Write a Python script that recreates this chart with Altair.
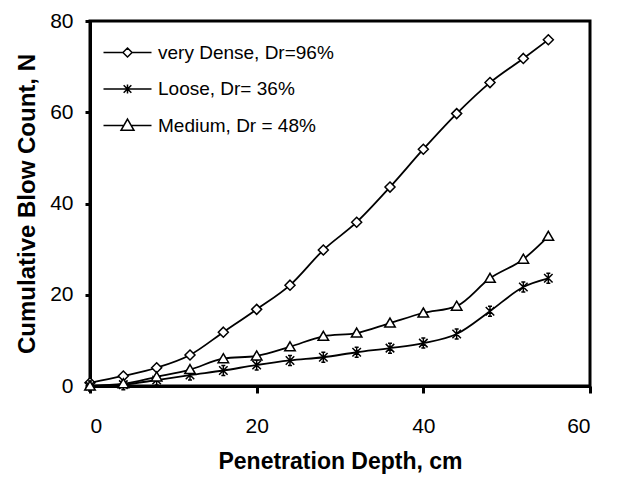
import altair as alt
import pandas as pd

# ---- data ----
depth = [0, 4, 8, 12, 16, 20, 24, 28, 32, 36, 40, 44, 48, 52, 55]
dense = [0.7, 2.2, 4.0, 6.8, 11.8, 16.8, 22.1, 29.8, 35.9, 43.6, 51.9, 59.7, 66.5, 71.8, 75.9]
loose = [0.0, 0.3, 1.3, 2.4, 3.4, 4.6, 5.6, 6.3, 7.4, 8.3, 9.4, 11.4, 16.4, 21.7, 23.6]
medium = [0.0, 0.5, 2.0, 3.6, 6.0, 6.6, 8.6, 10.9, 11.6, 13.8, 16.0, 17.5, 23.6, 27.8, 32.8]

series_names = ["very Dense, Dr=96%", "Loose, Dr= 36%", "Medium, Dr = 48%"]
series_values = [dense, loose, medium]

rows = []
for name, vals in zip(series_names, series_values):
    for d, v in zip(depth, vals):
        rows.append({"depth": d, "count": v, "series": name})
df = pd.DataFrame(rows)

# marker shapes (unit paths)
diamond = "M0,-1L1,0L0,1L-1,0Z"
star = "M0,-1L0,1M-0.85,-0.85L0.85,0.85M-0.85,0.85L0.85,-0.85M-0.4,-1L0.4,-1M-0.4,1L0.4,1"
triangle = "M0,-1L1.05,0.8L-1.05,0.8Z"
marker_paths = [diamond, star, triangle]

# legend symbols: line segment with marker in the middle
leg_diamond = "M-1,0L-0.19,0M0.19,0L1,0M0,-0.19L0.19,0L0,0.19L-0.19,0Z"
leg_star = "M-1,0L1,0M0,-0.19L0,0.19M-0.16,-0.16L0.16,0.16M-0.16,0.16L0.16,-0.16"
leg_triangle = "M-1,0L-0.155,0M0.155,0L1,0M0,-0.27L0.27,0.2L-0.27,0.2Z"
legend_paths = [leg_diamond, leg_star, leg_triangle]

FONT = "Liberation Sans"

x_enc = alt.X(
    "depth:Q",
    scale=alt.Scale(domain=[0, 60], nice=False),
    axis=alt.Axis(
        values=[0, 20, 40, 60], title="Penetration Depth, cm", grid=False,
        domainColor="black", domainWidth=3, tickColor="black", tickWidth=3, tickSize=7,
        labelFont=FONT, labelFontSize=21, labelColor="black", labelPadding=22,
        titleFont=FONT, titleFontSize=23, titleFontWeight="bold", titleColor="black",
        titlePadding=14,
    ),
)
y_enc = alt.Y(
    "count:Q",
    scale=alt.Scale(domain=[0, 80], nice=False),
    axis=alt.Axis(
        values=[0, 20, 40, 60, 80], title="Cumulative Blow Count, N", grid=False,
        domainColor="black", domainWidth=3, tickColor="black", tickWidth=3, tickSize=5,
        labelFont=FONT, labelFontSize=21, labelColor="black", labelPadding=12,
        titleFont=FONT, titleFontSize=24, titleFontWeight="bold", titleColor="black",
        titlePadding=10,
    ),
)

base = alt.Chart(df)

lines = base.mark_line(color="black", strokeWidth=1.8, interpolate="monotone").encode(
    x=x_enc, y=y_enc, detail="series:N"
)

points = base.mark_point(filled=True, fill="white", stroke="black", strokeWidth=1.5,
                         size=100, opacity=1).encode(
    x=x_enc, y=y_enc,
    shape=alt.Shape("series:N", scale=alt.Scale(domain=series_names, range=marker_paths),
                    legend=None),
)

legend_layer = base.mark_point(opacity=0, size=1).encode(
    x=x_enc, y=y_enc,
    shape=alt.Shape(
        "series:N",
        scale=alt.Scale(domain=series_names, range=legend_paths),
        legend=alt.Legend(
            title=None, orient="none", legendX=12.5, legendY=16.5,
            symbolSize=2304, symbolStrokeWidth=1.5, symbolStrokeColor="black",
            symbolFillColor="white", symbolOpacity=1, symbolOffset=0,
            labelFont=FONT, labelFontSize=19, labelColor="black", labelOffset=5.5,
            labelLimit=400, clipHeight=30, rowPadding=6.5, padding=0,
        ),
    ),
)

chart = (
    alt.layer(lines, points, legend_layer)
    .resolve_scale(shape="independent")
    .properties(
        width=500, height=365,
        autosize=alt.AutoSizeParams(type="none"),
        padding={"left": 90, "top": 21, "right": 27, "bottom": 96},
        background="white",
    )
    .configure_view(stroke="black", strokeWidth=3)
)

chart.save("out.html", embed_options={"renderer": "svg", "actions": False})
